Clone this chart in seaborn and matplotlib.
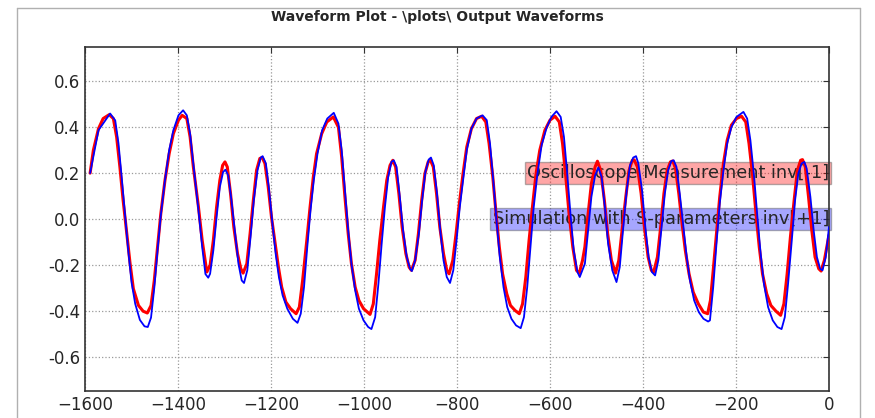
import matplotlib
matplotlib.use('Agg')
import matplotlib.pyplot as plt
from matplotlib.lines import Line2D
import seaborn as sns

meas_x = [-1589, -1582, -1571, -1561, -1548, -1539, -1532, -1525, -1518, -1510, -1503, -1496,
          -1485, -1475, -1466, -1458, -1451, -1444, -1437, -1428, -1419, -1410, -1399, -1391,
          -1381, -1374, -1367, -1356, -1348, -1338,
          -1331, -1324, -1317, -1310, -1304, -1299, -1294, -1287, -1280, -1272, -1265, -1260,
          -1252, -1245, -1238, -1231, -1224, -1219, -1213, -1206, -1199, -1191, -1184, -1177,
          -1168, -1158, -1146, -1139, -1132, -1123, -1116, -1109, -1102, -1091, -1080, -1066,
          -1055, -1048, -1041, -1034, -1027, -1019, -1011, -1001, -987, -980, -973, -966,
          -958, -951, -944, -938, -932, -925, -918, -910, -903, -898, -890, -883,
          -876, -869, -862, -857, -851, -844, -837, -829, -822, -817, -809, -802, -795,
          -787, -779, -769, -758, -747, -738, -731, -723, -716, -709, -702, -693,
          -685, -675, -666, -659, -652, -645, -637, -630, -622, -611, -600, -589,
          -580, -573, -566, -559, -551, -543, -537, -530,
          -525, -518, -511, -503, -498, -491, -483, -476, -468, -459, -452, -445,
          -437, -430, -423, -419, -412, -404, -397, -389, -382, -377, -369, -362,
          -355, -348, -341, -336, -330, -323, -316, -309, -301, -292, -281, -270, -261,
          -255, -249, -242, -235, -227, -219, -210, -199, -188, -179, -172, -164,
          -157, -150, -143, -134, -125, -114, -104, -97, -90, -83, -75, -68,
          -61, -57, -51, -44, -37, -30, -22, -17, -10, -2, 0]
meas_y = [0.20, 0.30, 0.394, 0.438, 0.455, 0.438, 0.358, 0.227, 0.081, -0.064, -0.195, -0.304,
          -0.377, -0.402, -0.41, -0.377, -0.268, -0.122, 0.023, 0.169, 0.285, 0.372, 0.431, 0.452,
          0.438, 0.358, 0.227, 0.052, -0.093, -0.231,
          -0.202, -0.093, 0.052, 0.169, 0.234, 0.249, 0.227, 0.111, -0.035, -0.151, -0.216, -0.236,
          -0.195, -0.064, 0.081, 0.213, 0.264, 0.268, 0.242, 0.14, 0.009, -0.108, -0.21, -0.297,
          -0.362, -0.391, -0.413, -0.384, -0.268, -0.093, 0.052, 0.183, 0.285, 0.372, 0.423, 0.445,
          0.40, 0.27, 0.096, -0.064, -0.195, -0.297, -0.355, -0.391, -0.416, -0.37, -0.239, -0.093,
          0.052, 0.169, 0.234, 0.256, 0.227, 0.111, -0.035, -0.151, -0.21, -0.224, -0.18, -0.064,
          0.081, 0.198, 0.249, 0.256, 0.227, 0.111, -0.035, -0.151, -0.224, -0.239, -0.18, -0.064, 0.067,
          0.198, 0.314, 0.394, 0.438, 0.448, 0.423, 0.329, 0.183, 0.023, -0.122, -0.239, -0.326,
          -0.377, -0.399, -0.413, -0.37, -0.253, -0.093, 0.067, 0.198, 0.30, 0.387, 0.431, 0.448,
          0.423, 0.329, 0.183, 0.023, -0.122, -0.224, -0.236, -0.18,
          -0.122, 0.023, 0.154, 0.227, 0.252, 0.212, 0.081, -0.064, -0.18, -0.236, -0.18, -0.049,
          0.096, 0.212, 0.256, 0.258, 0.227, 0.111, -0.035, -0.166, -0.224, -0.231, -0.166, -0.035,
          0.111, 0.212, 0.249, 0.253, 0.22, 0.111, -0.02, -0.137, -0.239, -0.319, -0.37, -0.406, -0.413,
          -0.355, -0.224, -0.064, 0.096, 0.242, 0.343, 0.409, 0.438, 0.448, 0.423, 0.329, 0.183,
          0.023, -0.122, -0.239, -0.326, -0.377, -0.402, -0.42, -0.37, -0.239, -0.079, 0.081, 0.212,
          0.256, 0.259, 0.227, 0.096, -0.049, -0.166, -0.217, -0.227, -0.18, -0.093, -0.07]

# simulation with S-parameters (blue)
sim_x = [-1589, -1571, -1546, -1535, -1528, -1521, -1514, -1507, -1500, -1492, -1482, -1472,
         -1465, -1458, -1451, -1444, -1437, -1428, -1419, -1410, -1399, -1389, -1381, -1374,
         -1367, -1356, -1348, -1341, -1335,
         -1331, -1324, -1317, -1310, -1303, -1298, -1292, -1285, -1277, -1270, -1263, -1258,
         -1251, -1244, -1237, -1229, -1222, -1218, -1211, -1204, -1197, -1190, -1183, -1175,
         -1165, -1153, -1143, -1136, -1129, -1122, -1115, -1108, -1100, -1090, -1079, -1065,
         -1055, -1048, -1041, -1034, -1027, -1019, -1011, -1001, -991, -984, -976, -969,
         -962, -955, -948, -941, -936, -930, -923, -916, -908, -901, -897, -890,
         -882, -875, -868, -861, -856, -850, -843, -836, -829, -822, -815, -808, -801, -794,
         -787, -779, -769, -758, -745, -736, -729, -722, -715, -708, -700, -692,
         -683, -673, -663, -656, -649, -642, -635, -627, -618, -607, -597, -586,
         -577, -570, -563, -556, -549, -541, -536, -528,
         -525, -518, -511, -503, -496, -489, -482, -475, -466, -457, -450, -443,
         -435, -428, -421, -415, -410, -402, -395, -388, -381, -374, -367, -360,
         -353, -346, -339, -334, -328, -321, -313, -306, -299, -290, -280, -270, -260,
         -256, -249, -242, -235, -227, -219, -210, -199, -184, -176, -169, -161,
         -154, -147, -140, -131, -121, -111, -102, -95, -88, -80, -73, -66,
         -59, -53, -48, -40, -33, -26, -19, -14, -7, 0]
sim_y = [0.20, 0.387, 0.46, 0.43, 0.33, 0.18, 0.02, -0.137, -0.275, -0.37, -0.44, -0.468,
         -0.471, -0.43, -0.30, -0.137, 0.016, 0.169, 0.30, 0.387, 0.452, 0.474, 0.452, 0.372,
         0.24, 0.038, -0.122, -0.24, -0.256,
         -0.239, -0.137, 0.009, 0.14, 0.205, 0.215, 0.19, 0.081, -0.064, -0.195, -0.268, -0.279,
         -0.224, -0.079, 0.081, 0.213, 0.268, 0.274, 0.242, 0.125, -0.02, -0.151, -0.253, -0.333,
         -0.391, -0.435, -0.453, -0.413, -0.297, -0.122, 0.038, 0.169, 0.285, 0.387, 0.438, 0.463,
         0.416, 0.30, 0.125, -0.049, -0.195, -0.311, -0.391, -0.442, -0.471, -0.48, -0.428, -0.282,
         -0.108, 0.052, 0.183, 0.249, 0.256, 0.227, 0.096, -0.049, -0.166, -0.217, -0.227, -0.18,
         -0.064, 0.081, 0.205, 0.259, 0.268, 0.234, 0.111, -0.049, -0.18, -0.253, -0.279, -0.224, -0.093, 0.052,
         0.169, 0.30, 0.394, 0.438, 0.452, 0.431, 0.329, 0.169, -0.006, -0.166, -0.297, -0.384,
         -0.435, -0.464, -0.476, -0.428, -0.297, -0.122, 0.052, 0.198, 0.322, 0.40, 0.445, 0.47,
         0.445, 0.358, 0.198, 0.023, -0.137, -0.231, -0.253, -0.21,
         -0.195, -0.049, 0.096, 0.19, 0.225, 0.183, 0.052, -0.108, -0.224, -0.275, -0.21, -0.049,
         0.125, 0.234, 0.268, 0.274, 0.242, 0.125, -0.035, -0.166, -0.231, -0.246, -0.18, -0.035,
         0.111, 0.212, 0.253, 0.256, 0.227, 0.111, -0.035, -0.166, -0.268, -0.355, -0.406, -0.435, -0.447,
         -0.442, -0.297, -0.108, 0.067, 0.212, 0.329, 0.40, 0.445, 0.467, 0.438, 0.343, 0.183,
         0.009, -0.151, -0.282, -0.384, -0.442, -0.471, -0.48, -0.428, -0.282, -0.093, 0.081, 0.198,
         0.242, 0.249, 0.22, 0.096, -0.049, -0.166, -0.217, -0.224, -0.166, -0.035]

xticks = [-1600, -1400, -1200, -1000, -800, -600, -400, -200, 0]
yticks = [-0.6, -0.4, -0.2, 0.0, 0.2, 0.4, 0.6]

sns.set_style('white')
plt.rcParams['font.family'] = ['DejaVu Sans']

fig = plt.figure(figsize=(8.75, 4.18), dpi=100)
ax = fig.add_axes([85/875, 1 - 391/418, 744/875, 344/418])

sns.lineplot(x=meas_x, y=meas_y, color='red', linewidth=2.2, estimator=None, ax=ax, zorder=3)
sns.lineplot(x=sim_x, y=sim_y, color='blue', linewidth=1.3, estimator=None, ax=ax, zorder=4)

ax.set_xlim(-1600, 0)
ax.set_ylim(-0.75, 0.75)
ax.set_xticks(xticks)
ax.set_yticks(yticks)
ax.set_yticklabels(['%.1f' % v for v in yticks])
ax.grid(True, linestyle=':', color='#999999', linewidth=0.9)
ax.tick_params(direction='in', top=True, right=True, length=4, labelsize=12, color='#333333')
for s in ax.spines.values():
    s.set_color('#333333')
    s.set_linewidth(1.2)

# the two labels sit behind the curves
ax.text(0, 0.2, 'Oscilloscope Measurement inv[-1]', ha='right', va='center', fontsize=12.8, zorder=2,
        bbox=dict(boxstyle='square,pad=0.12', facecolor=(1, 0, 0, 0.35), edgecolor=(0.4, 0.4, 0.4, 0.5)))
ax.text(0, 0.0, 'Simulation with S-parameters inv[+1]', ha='right', va='center', fontsize=12.8, zorder=2,
        bbox=dict(boxstyle='square,pad=0.12', facecolor=(0, 0, 1, 0.35), edgecolor=(0.4, 0.4, 0.4, 0.5)))

fig.text(0.5, 1 - 17/418, 'Waveform Plot - \\plots\\ Output Waveforms', ha='center', va='center',
         fontsize=10, fontweight='bold')

# thin frame around the figure
frame_c = '#b0b0b0'
fig.add_artist(Line2D([17/875, 17/875], [0, 1 - 8/418], transform=fig.transFigure, color=frame_c, lw=1))
fig.add_artist(Line2D([17/875, 860/875], [1 - 8/418, 1 - 8/418], transform=fig.transFigure, color=frame_c, lw=1))
fig.add_artist(Line2D([860/875, 860/875], [0, 1 - 8/418], transform=fig.transFigure, color=frame_c, lw=1))

fig.savefig('out.png', dpi=100)
